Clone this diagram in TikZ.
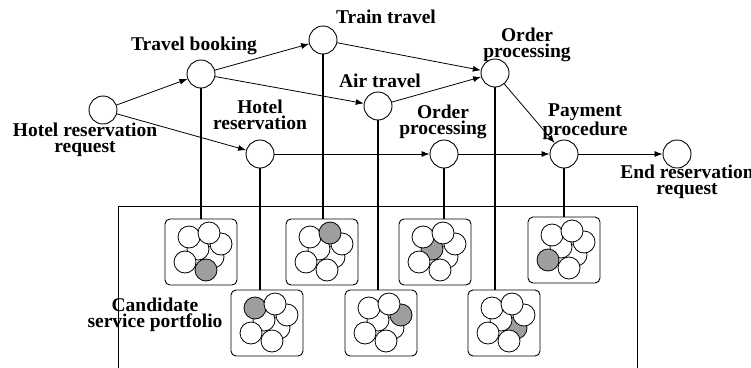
\documentclass[tikz,border=0pt]{standalone}
\usepackage{fontspec}
\setmainfont{Liberation Serif}
\usetikzlibrary{arrows.meta}

\begin{document}
\begin{tikzpicture}[x=1pt,y=-1pt,
    svc/.style={circle,draw,line width=0.9pt,minimum size=28pt,inner sep=0pt},
    lbl/.style={font=\bfseries\fontsize{19.5}{16}\selectfont,align=center,inner sep=0pt},
    arr/.style={line width=0.8pt,-{Latex[length=8pt,width=6pt]}},
    link/.style={line width=1.8pt},
    pbox/.style={draw,rounded corners=5pt,line width=0.9pt,minimum width=72pt,minimum height=66pt,inner sep=0pt}]
\clip (0,0) rectangle (751,367);
% Services
\node[svc] (req) at (103,110) {};
\node[svc] (tb) at (201,74) {};
\node[svc] (train) at (323,40) {};
\node[svc] (air) at (378,106) {};
\node[svc] (hotel) at (260,154) {};
\node[svc] (optop) at (495,73) {};
\node[svc] (opmid) at (444,154) {};
\node[svc] (pay) at (564,154) {};
\node[svc] (fin) at (677,154) {};
% Labels
\node[lbl] (reqL) at (85,140) {Hotel reservation\\request};
\node[lbl] (tbL) at (194,46) {Travel booking};
\node[lbl] (trainL) at (386,17) {Train travel};
\node[lbl] (airL) at (380,81) {Air travel};
\node[lbl] (hotelL) at (260,115) {Hotel\\reservation};
\node[lbl] (optopL) at (527,45) {Order\\processing};
\node[lbl] (opmidL) at (443,122) {Order\\processing};
\node[lbl] (payL) at (585,122) {Payment\\procedure};
\node[lbl] (finL) at (687,182) {End reservation\\request};
\node[lbl] (candL) at (155,315) {Candidate\\service portfolio};
% Flow
\draw[arr] (req) -- (tb);
\draw[arr] (req) -- (hotel);
\draw[arr] (tb) -- (train);
\draw[arr] (tb) -- (air);
\draw[arr] (train) -- (optop);
\draw[arr] (air) -- (optop);
\draw[arr] (hotel) -- (opmid);
\draw[arr] (opmid) -- (pay);
\draw[arr] (optop) -- (pay);
\draw[arr] (pay) -- (fin);
% Candidate portfolios
\draw[line width=0.9pt] (118,380) |- (637,206) -- (637,380);
\foreach \name/\bx/\by/\g in {p1/165/219/7, p2/286/219/2, p3/399/219/4, p4/528/217/6,
                              p5/231/290/1, p6/345/290/3, p7/468/290/5} {
    \node[pbox] (\name) at (\bx+36,\by+33) {};
    \foreach \k/\dx/\dy in {5/48/38, 3/56/25, 4/33/30, 1/24/18, 2/44/14, 6/20/43, 7/41/51} {
        \ifnum\k=\g\def\col{black!38}\else\def\col{white}\fi
        \draw[line width=0.8pt,fill=\col] (\bx+\dx,\by+\dy) circle (11);
    }
}
% Links
\draw[link] (tb) -- (tb |- p1.north);
\draw[link] (train) -- (train |- p2.north);
\draw[link] (opmid) -- (opmid |- p3.north);
\draw[link] (pay) -- (pay |- p4.north);
\draw[link] (hotel) -- (hotel |- p5.north);
\draw[link] (air) -- (air |- p6.north);
\draw[link] (optop) -- (optop |- p7.north);
\end{tikzpicture}
\end{document}
